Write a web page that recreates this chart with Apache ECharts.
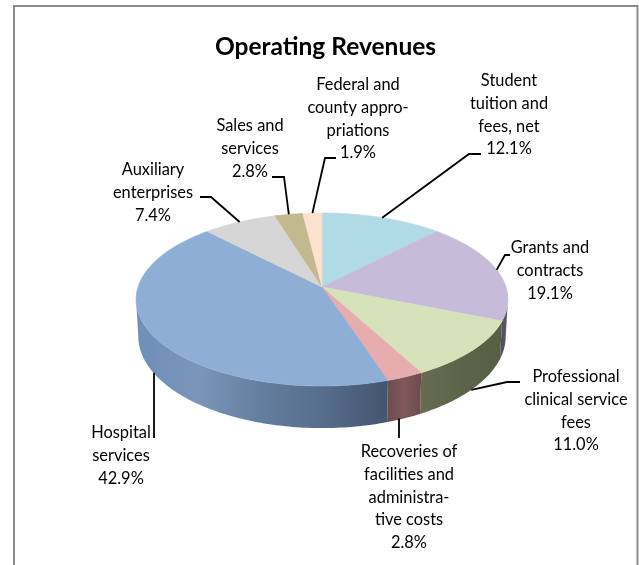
<!DOCTYPE html>
<html><head><meta charset="utf-8">
<style>html,body{margin:0;padding:0;background:#fff}#c{width:639px;height:565px}</style>
<script src="https://cdn.jsdelivr.net/npm/echarts@6/dist/echarts.min.js"></script>
</head><body><div id="c"></div>
<script>
const categories = ['Student\ntuition and\nfees, net','Grants and\ncontracts','Professional\nclinical service\nfees','Recoveries of\nfacilities and\nadministra-\ntive costs','Hospital\nservices','Auxiliary\nenterprises','Sales and\nservices','Federal and\ncounty appro-\npriations'];
const values = [12.1,19.1,11.0,2.8,42.9,7.4,2.8,1.9];
const topColors = ['#B0DAE6','#C6BCD9','#D6E2BA','#E6ACAE','#8FAED6','#D6D6D6','#C2B98F','#FBE2CE'];
const sideStops = [
  [[0,'#888888'],[1,'#888888']],
  [[0,'#5f5870'],[1,'#4f4a5c']],
  [[0,'#565e44'],[0.5,'#5c6449'],[1,'#666c52']],
  [[0,'#6e4b4e'],[0.5,'#80585a'],[1,'#6e4b4e']],
  [[0,'#6f8fba'],[0.25,'#7a95b8'],[0.5,'#647e9f'],[0.75,'#566c8b'],[1,'#43566f']],
  [[0,'#888888'],[1,'#888888']],[[0,'#888888'],[1,'#888888']],[[0,'#888888'],[1,'#888888']]
];
const sideReversed = [false,true,true,false,false,false,false,false];
// label layout: text centre x, first-line centre y, leader elbow points, leader start on lower rim, vertical leader
const labelLayout = [
  {x:509,y:81,via:[[469,154],[481,154]],low:false},
  {x:550,y:248,via:[[505,255],[510,255]],low:false},
  {x:576,y:377,via:[[507,382],[520,382]],low:true},
  {x:409,y:452,via:[[399,438]],low:true,vert:true},
  {x:121,y:433,via:[[154,438]],low:true,vert:true},
  {x:153,y:170,via:[[211,197],[200,197]],low:false},
  {x:250,y:126,via:[[284,177],[272,177]],low:false},
  {x:358,y:85,via:[[325,158],[336,158]],low:false}
];
const cx=322, cy=287, R=184, Q=84.7, k=0.1445, D=36;
const LABEL_FONT='16.4px Lato, "Open Sans", sans-serif', LH=22.7;
const total=values.reduce((a,b)=>a+b,0);
const rad=d=>d*Math.PI/180;
function pt(deg,depth){
  const t=rad(deg), s=1/(1+k*Math.cos(t));
  return [cx+R*(1-0.012*depth)*Math.sin(t)*s, cy-Q*Math.cos(t)*s+depth*D*s];
}
function arc(a,b,depth){const out=[];const n=Math.max(2,Math.ceil(Math.abs(b-a)));for(let i=0;i<=n;i++)out.push(pt(a+(b-a)*i/n,depth));return out;}
function span(i){let c=0;for(let j=0;j<i;j++)c+=values[j];return [c/total*360,(c+values[i])/total*360];}
const visA=98.3, visB=261.7;

const option={
  animation:false,
  backgroundColor:'#fff',
  title:{text:'Operating Revenues',left:320.5,top:30,textAlign:'center',textStyle:{fontFamily:'Lato',fontWeight:'bold',fontSize:24.5,color:'#000'}},
  graphic:[
    {type:'polyline',silent:true,shape:{points:[[14,565],[14,6],[637.5,6],[637.5,565]]},style:{fill:null,stroke:'#8c8c8c',lineWidth:2}}
  ],
  series:[
    {type:'custom',coordinateSystem:'none',silent:true,z:1,data:values.map(v=>[v]),
     renderItem(p,api){
       const i=p.dataIndex,[a,b]=span(i);const a2=Math.max(a,visA),b2=Math.min(b,visB);
       if(b2<=a2)return {type:'group',children:[]};
       const top=arc(a2,b2,0),bot=arc(b2,a2,1);
       const xs=top.concat(bot).map(q=>q[0]);const x0=Math.min(...xs),x1=Math.max(...xs);
       const rev=sideReversed[i];
       return {type:'polygon',shape:{points:top.concat(bot)},style:{
         fill:{type:'linear',x:rev?x1:x0,y:0,x2:rev?x0:x1,y2:0,global:true,colorStops:sideStops[i].map(s=>({offset:s[0],color:s[1]}))},
         stroke:null}};
     }},
    {type:'custom',coordinateSystem:'none',silent:true,z:2,data:values.map(v=>[v]),
     renderItem(p,api){
       const [a,b]=span(p.dataIndex);
       return {type:'polygon',shape:{points:[[cx,cy]].concat(arc(a,b,0))},
         style:{fill:topColors[p.dataIndex],stroke:topColors[p.dataIndex],lineWidth:0.6}};
     }},
    {type:'custom',coordinateSystem:'none',silent:true,z:3,data:values.map(v=>[v]),
     renderItem(p,api){
       const i=p.dataIndex,[a,b]=span(i),L=labelLayout[i];
       const start=pt((a+b)/2,L.low?1:0);
       if(L.vert)start[0]=L.via[0][0];
       return {type:'group',children:[
         {type:'polyline',shape:{points:[start].concat(L.via)},style:{fill:null,stroke:'#000',lineWidth:1.8}},
         {type:'text',style:{text:categories[i]+'\n'+api.value(0).toFixed(1)+'%',x:L.x,y:L.y-LH/2,align:'center',verticalAlign:'top',font:LABEL_FONT,lineHeight:LH,fill:'#000'}}
       ]};
     }}
  ]
};
echarts.init(document.getElementById('c'),null,{renderer:'canvas'}).setOption(option);
</script></body></html>
